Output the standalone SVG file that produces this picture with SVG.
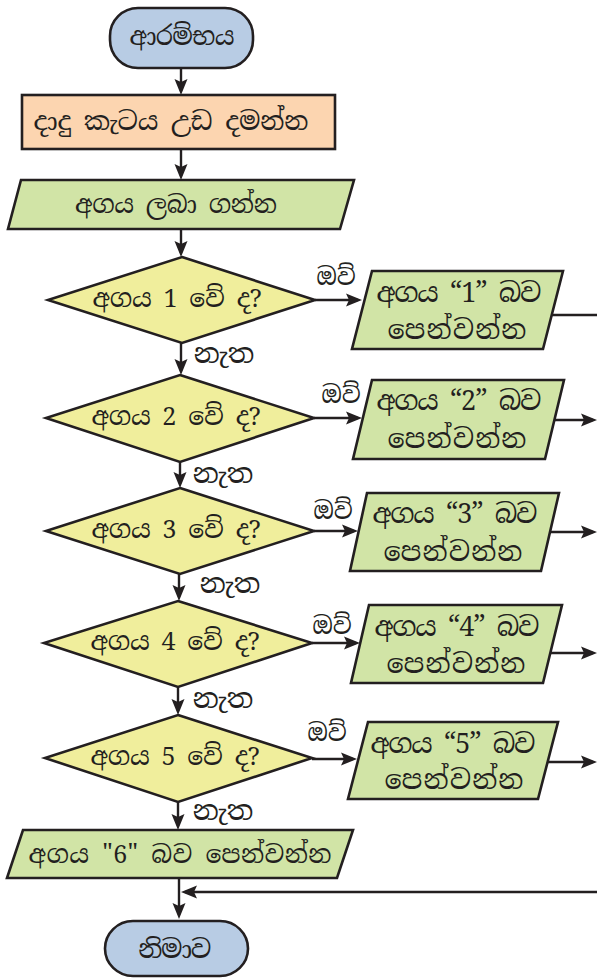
<svg xmlns="http://www.w3.org/2000/svg" width="597" height="978" viewBox="0 0 597 978">
<defs>
<style>
.s{stroke:#231f20;stroke-width:2.6;stroke-linejoin:miter}
.term{fill:#b8cce4}
.proc{fill:#fcd5b0}
.io{fill:#d1e4a6}
.dec{fill:#f0ee9c}
.c{fill:none;stroke:#231f20;stroke-width:2.4}
text{font-family:'Noto Serif Sinhala','Noto Sans Sinhala','Iskoola Pota','Liberation Serif',serif;fill:#231f20;text-anchor:middle}
.t{font-size:25px}
.p{font-size:27px}
.y{font-size:24px}
.n{font-size:28px}
</style>
<marker id="ah" markerWidth="17" markerHeight="14" refX="12" refY="7" orient="auto" markerUnits="userSpaceOnUse">
<path d="M0,0.5 L16,7 L0,13.5 L3,7 z" fill="#231f20"/>
</marker>
</defs>
<g id="connectors">
<path class="c" d="M181,68 V91" marker-end="url(#ah)"/>
<path class="c" d="M181,149 V176" marker-end="url(#ah)"/>
<path class="c" d="M181,229 V253" marker-end="url(#ah)"/>
<path class="c" d="M181,343 V371" marker-end="url(#ah)"/>
<path class="c" d="M180,462 V484" marker-end="url(#ah)"/>
<path class="c" d="M179,574 V597" marker-end="url(#ah)"/>
<path class="c" d="M178,687 V711" marker-end="url(#ah)"/>
<path class="c" d="M178,802 V826" marker-end="url(#ah)"/>
<path class="c" d="M179,878 V915" marker-end="url(#ah)"/>
<path class="c" d="M315,300 H358" marker-end="url(#ah)"/>
<path class="c" d="M314,418 H358" marker-end="url(#ah)"/>
<path class="c" d="M314,531 H354" marker-end="url(#ah)"/>
<path class="c" d="M312,643 H356" marker-end="url(#ah)"/>
<path class="c" d="M312,759 H353" marker-end="url(#ah)"/>
<path class="c" d="M552,315 H597"/>
<path class="c" d="M554,420 H593" marker-end="url(#ah)"/>
<path class="c" d="M550,532 H593" marker-end="url(#ah)"/>
<path class="c" d="M550,653 H593" marker-end="url(#ah)"/>
<path class="c" d="M548,762 H593" marker-end="url(#ah)"/>
<path class="c" d="M597,892 H185" marker-end="url(#ah)"/>
</g>
<g id="start">
<rect class="s term" x="110" y="8" width="143" height="60" rx="28"/>
<text class="t" x="182" y="45" textLength="105">ආරම්භය</text>
</g>
<g id="roll">
<rect class="s proc" x="22" y="95" width="313" height="54"/>
<text class="t" x="171" y="130" style="font-size:26px" textLength="275">දාදු කැටය උඩ දමන්න</text>
</g>
<g id="input">
<polygon class="s io" points="21,180 354,180 340,229 8,229"/>
<text class="t" x="176" y="213" textLength="202">අගය ලබා ගන්න</text>
</g>
<g id="d1">
<polygon class="s dec" points="182,257 315,300 182,343 48,300"/>
<text class="t" x="177" y="307" textLength="169">අගය 1 වේ ද?</text>
</g>
<g id="d2">
<polygon class="s dec" points="180,375 314,418 180,462 46,418"/>
<text class="t" x="176" y="425" textLength="169">අගය 2 වේ ද?</text>
</g>
<g id="d3">
<polygon class="s dec" points="180,488 314,531 180,574 46,531"/>
<text class="t" x="176" y="538" textLength="169">අගය 3 වේ ද?</text>
</g>
<g id="d4">
<polygon class="s dec" points="178,601 312,643 178,687 44,643"/>
<text class="t" x="175" y="650" textLength="169">අගය 4 වේ ද?</text>
</g>
<g id="d5">
<polygon class="s dec" points="178,715 312,758 178,802 45,758"/>
<text class="t" x="175" y="765" textLength="169">අගය 5 වේ ද?</text>
</g>
<g id="p1">
<polygon class="s io" points="372,271 563,271 543,349 352,349"/>
<text class="p" x="459" y="302" textLength="165">අගය “1” බව</text>
<text class="p" x="457" y="339" textLength="139">පෙන්වන්න</text>
</g>
<g id="p2">
<polygon class="s io" points="372,380 564,380 545,459 353,459"/>
<text class="p" x="459" y="410" textLength="165">අගය “2” බව</text>
<text class="p" x="457" y="448" textLength="139">පෙන්වන්න</text>
</g>
<g id="p3">
<polygon class="s io" points="367,493 559,493 541,571 350,571"/>
<text class="p" x="455" y="523" textLength="165">අගය “3” බව</text>
<text class="p" x="453" y="561" textLength="139">පෙන්වන්න</text>
</g>
<g id="p4">
<polygon class="s io" points="369,605 562,605 543,683 351,683"/>
<text class="p" x="457" y="636" textLength="165">අගය “4” බව</text>
<text class="p" x="456" y="673" textLength="139">පෙන්වන්න</text>
</g>
<g id="p5">
<polygon class="s io" points="368,722 558,722 538,799 348,799"/>
<text class="p" x="453" y="753" textLength="165">අගය “5” බව</text>
<text class="p" x="454" y="789" textLength="139">පෙන්වන්න</text>
</g>
<g id="p6">
<polygon class="s io" points="23,830 353,830 337,878 7,878"/>
<text class="t" x="180" y="863" textLength="303">අගය "6" බව පෙන්වන්න</text>
</g>
<g id="end">
<rect class="s term" x="105" y="921" width="143" height="55" rx="28"/>
<text class="t" x="174" y="958" style="font-size:26px" textLength="73">නිමාව</text>
</g>
<g id="labels">
<text class="y" x="336" y="285">ඔව්</text>
<text class="y" x="341" y="403">ඔව්</text>
<text class="y" x="333" y="519">ඔව්</text>
<text class="y" x="332" y="634">ඔව්</text>
<text class="y" x="327" y="741">ඔව්</text>
<text class="n" x="224" y="363">නැත</text>
<text class="n" x="223" y="483">නැත</text>
<text class="n" x="230" y="593">නැත</text>
<text class="n" x="223" y="708">නැත</text>
<text class="n" x="223" y="820">නැත</text>
</g>
</svg>
